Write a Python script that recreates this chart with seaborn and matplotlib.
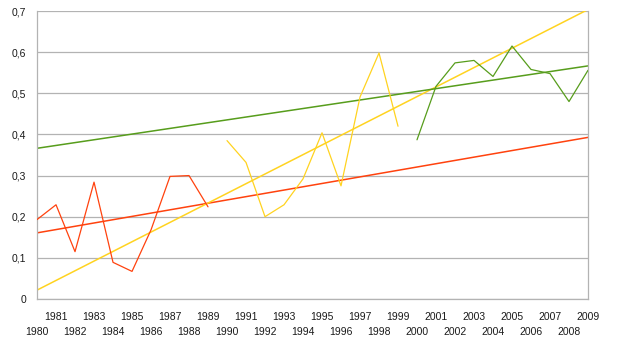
import numpy as np
import pandas as pd
import matplotlib
matplotlib.use("Agg")
import matplotlib.pyplot as plt
import seaborn as sns

# Yearly values for the three decades
years_a = list(range(1980, 1990))
values_a = [0.193, 0.229, 0.115, 0.284, 0.089, 0.067, 0.168, 0.298, 0.300, 0.224]
years_b = list(range(1990, 2000))
values_b = [0.385, 0.332, 0.200, 0.229, 0.292, 0.404, 0.275, 0.491, 0.598, 0.420]
years_c = list(range(2000, 2010))
values_c = [0.387, 0.517, 0.574, 0.580, 0.541, 0.615, 0.558, 0.548, 0.480, 0.556]

series_colors = ["#ff420e", "#ffd320", "#579d1c"]

y_ticks = [0, 0.1, 0.2, 0.3, 0.4, 0.5, 0.6, 0.7]
y_tick_labels = ["0", "0,1", "0,2", "0,3", "0,4", "0,5", "0,6", "0,7"]
x_years = list(range(1980, 2010))
odd_years = [y for y in x_years if y % 2]
even_years = [y for y in x_years if not y % 2]

sns.set_style("white")
plt.rcParams["font.family"] = ["Liberation Sans", "DejaVu Sans"]

fig = plt.figure(figsize=(6.17, 3.46), dpi=100)
ax = fig.add_axes([0.06, 0.136, 0.893, 0.832])

grid_color = "#b3b3b3"
for t in y_ticks:
    ax.axhline(t, color=grid_color, lw=0.9, zorder=0)

full_range = np.array([x_years[0], x_years[-1]], dtype=float)
for yrs, vals, col in [(years_a, values_a, series_colors[0]),
                       (years_b, values_b, series_colors[1]),
                       (years_c, values_c, series_colors[2])]:
    df = pd.DataFrame({"year": yrs, "value": vals})
    sns.lineplot(data=df, x="year", y="value", color=col, lw=0.9, ax=ax, zorder=3)
    slope, intercept = np.polyfit(yrs, vals, 1)
    trend = pd.DataFrame({"year": full_range, "value": slope * full_range + intercept})
    sns.lineplot(data=trend, x="year", y="value", color=col, lw=1.1, ax=ax, zorder=2)

ax.set_xlim(1980, 2009)
ax.set_ylim(0, 0.7)
ax.set_xlabel("")
ax.set_ylabel("")

ax.set_yticks(y_ticks)
ax.set_yticklabels(y_tick_labels)
# Staggered year labels: odd years on the first row, even years on the second
ax.set_xticks(odd_years)
ax.set_xticklabels([str(y) for y in odd_years])
ax.set_xticks(even_years, minor=True)
ax.set_xticklabels([str(y) for y in even_years], minor=True)

ax.tick_params(axis="both", which="both", length=5, width=0.9, color=grid_color,
               labelsize=7.5, labelcolor="#1a1a1a", direction="out")
ax.tick_params(axis="x", which="major", pad=4.5)
ax.tick_params(axis="x", which="minor", pad=15)
ax.tick_params(axis="y", pad=3)

for side in ["left", "right", "bottom"]:
    ax.spines[side].set_color(grid_color)
    ax.spines[side].set_linewidth(0.9)
ax.spines["top"].set_visible(False)

fig.savefig("out.png", dpi=100)
